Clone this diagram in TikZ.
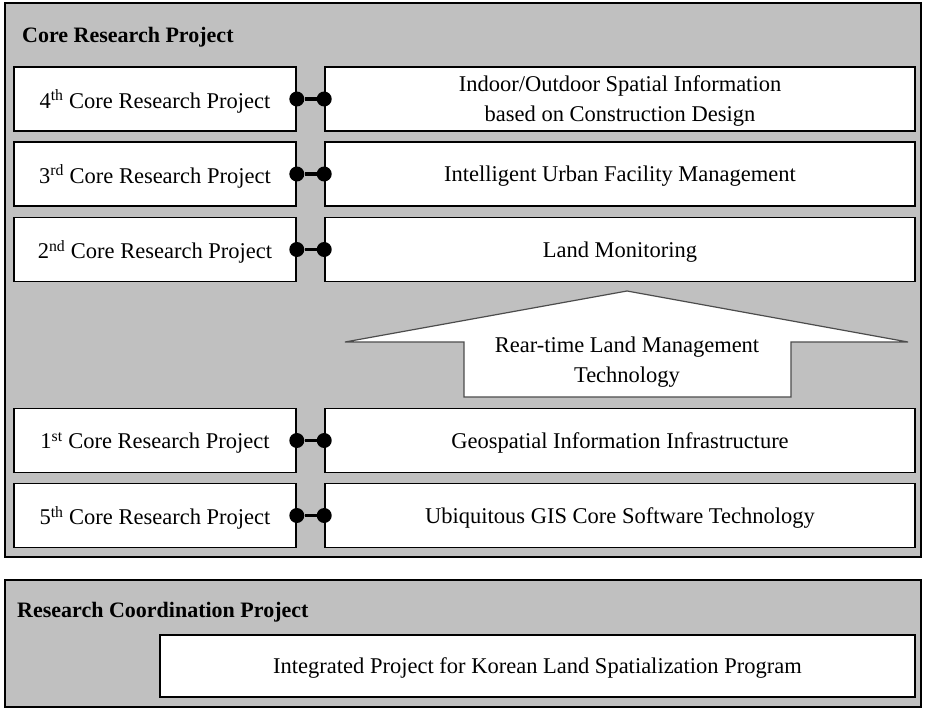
\documentclass[tikz,border=0pt]{standalone}
\usepackage{fontspec}
\setmainfont{Liberation Serif}
\definecolor{panelgray}{RGB}{192,192,192}

\begin{document}
\begin{tikzpicture}[x=1pt, y=-1pt,
  every node/.style={font=\fontsize{22.5}{30}\selectfont},
  panel/.style={draw, fill=panelgray, line width=2pt},
  paneltitle/.style={anchor=west, inner sep=0pt, font=\fontsize{22}{24}\selectfont\bfseries},
  leftbox/.style={draw, fill=white, line width=1.6pt, minimum width=282pt, minimum height=64pt, inner sep=0pt, text depth=0pt},
  rightbox/.style={draw, fill=white, line width=1.6pt, minimum width=590pt, minimum height=64pt, inner sep=0pt, text depth=0pt, align=center},
  joint/.style={circle, fill=black, minimum size=15pt, inner sep=0pt}]

\useasboundingbox (0,0) rectangle (925,709);

% Panels
\draw[panel] (5,3) rectangle (921,557);
\draw[panel] (5,580) rectangle (921,707);
\node[paneltitle] (coretitle) at (22,37) {Core Research Project};
\node[paneltitle] (coordtitle) at (17,612) {Research Coordination Project};

% Left column
\node[leftbox] (p4) at (155,99) {4\textsuperscript{th} Core Research Project};
\node[leftbox] (p3) at (155,174) {3\textsuperscript{rd} Core Research Project};
\node[leftbox] (p2) at (155,249.5) {2\textsuperscript{nd} Core Research Project};
\node[leftbox] (p1) at (155,440.5) {1\textsuperscript{st} Core Research Project};
\node[leftbox] (p5) at (155,515.5) {5\textsuperscript{th} Core Research Project};

% Right column
\node[rightbox] (t4) at (620,99) {Indoor/Outdoor Spatial Information\\based on Construction Design};
\node[rightbox] (t3) at (620,174) {Intelligent Urban Facility Management};
\node[rightbox] (t2) at (620,249.5) {Land Monitoring};
\node[rightbox] (t1) at (620,440.5) {Geospatial Information Infrastructure};
\node[rightbox] (t5) at (620,515.5) {Ubiquitous GIS Core Software Technology};

% Joints
\foreach \i in {1,...,5} {
   \node[joint] (jl\i) at (p\i.east) {};
   \node[joint] (jr\i) at (t\i.west) {};
   \draw[line width=3.5pt] (jl\i) -- (jr\i);
}

% Arrow
\draw[fill=white, draw=black!70, line width=1.2pt] (464,397) -- (464,342) -- (345,342) -- (627,291) -- (908,342) -- (791,342) -- (791,397) -- cycle;
\node[align=center, text depth=0pt] (arrowtxt) at (627,360) {Rear-time Land Management\\Technology};

% Coordination
\node[rightbox, minimum width=755pt, minimum height=62pt] (integ) at (537.5,666) {Integrated Project for Korean Land Spatialization Program};
\end{tikzpicture}
\end{document}
